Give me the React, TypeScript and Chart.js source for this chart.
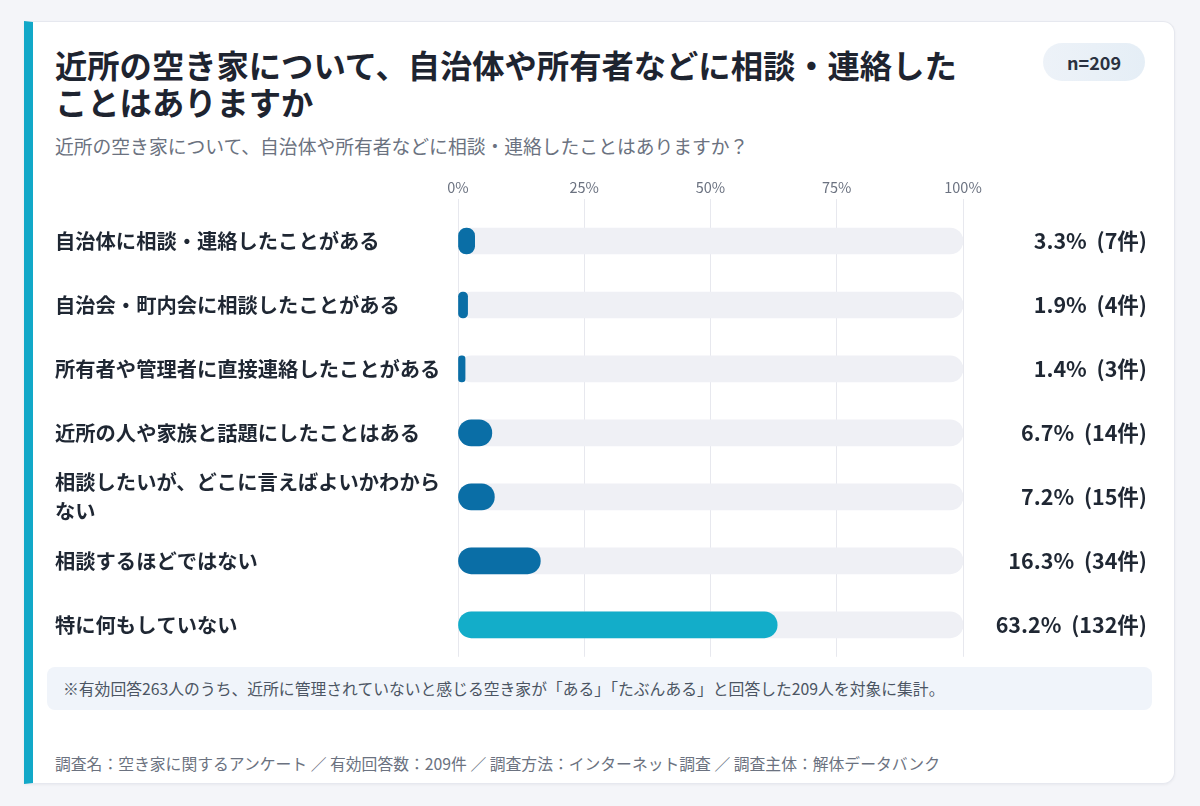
import React, { useEffect, useRef } from "react";
import { Chart, registerables } from "chart.js";

Chart.register(...registerables);

const FONT = '"Noto Sans CJK JP", "Noto Sans", sans-serif';

const TITLE_LINES = ["近所の空き家について、自治体や所有者などに相談・連絡した", "ことはありますか"];
const SUBTITLE = "近所の空き家について、自治体や所有者などに相談・連絡したことはありますか？";
const SAMPLE = "n=209";
const NOTE = "※有効回答263人のうち、近所に管理されていないと感じる空き家が「ある」「たぶんある」と回答した209人を対象に集計。";
const SOURCE = "調査名：空き家に関するアンケート ／ 有効回答数：209件 ／ 調査方法：インターネット調査 ／ 調査主体：解体データバンク";

const categories: (string | string[])[] = [
  "自治体に相談・連絡したことがある",
  "自治会・町内会に相談したことがある",
  "所有者や管理者に直接連絡したことがある",
  "近所の人や家族と話題にしたことはある",
  ["相談したいが、どこに言えばよいかわから", "ない"],
  "相談するほどではない",
  "特に何もしていない",
];
const percentages = [3.3, 1.9, 1.4, 6.7, 7.2, 16.3, 63.2];
const counts = [7, 4, 3, 14, 15, 34, 132];
const axisTicks = [0, 25, 50, 75, 100];
const AXIS_MAX = 100;

const BAR_COLOR = "#0a6ea6";
const TOP_COLOR = "#13adc9";
const TRACK_COLOR = "#eff0f5";

export default function App() {
  const canvasRef = useRef<HTMLCanvasElement | null>(null);

  useEffect(() => {
    const canvas = canvasRef.current;
    if (!canvas) return;
    const maxVal = Math.max(...percentages);
    const valueLabels = percentages.map((p, i) => `${p.toFixed(1)}%  (${counts[i]}件)`);
    const chart = new Chart(canvas, {
      type: "bar",
      data: {
        labels: categories as any,
        datasets: [
          {
            label: "割合",
            data: percentages,
            backgroundColor: percentages.map((p) => (p === maxVal ? TOP_COLOR : BAR_COLOR)),
            borderRadius: 13,
            borderSkipped: false,
            barThickness: 26,
            grouped: false,
            order: 1,
            yAxisID: "y",
          } as any,
          {
            label: "全体",
            data: percentages.map(() => AXIS_MAX),
            backgroundColor: TRACK_COLOR,
            borderRadius: 13,
            borderSkipped: false,
            barThickness: 26,
            grouped: false,
            order: 2,
            yAxisID: "y",
          } as any,
        ],
      },
      options: {
        indexAxis: "y",
        animation: false,
        responsive: false,
        maintainAspectRatio: false,
        layout: { padding: 0 },
        plugins: { legend: { display: false }, tooltip: { enabled: false } },
        scales: {
          x: {
            type: "linear",
            position: "top",
            min: 0,
            max: AXIS_MAX,
            afterBuildTicks: (s: any) => {
              s.ticks = axisTicks.map((v) => ({ value: v }));
            },
            afterFit: (s: any) => {
              s.height = 39;
            },
            ticks: {
              callback: (v: any) => `${v}%`,
              color: "#6b7280",
              font: { family: FONT, size: 14.5 },
              padding: 3,
              maxRotation: 0,
            },
            grid: { color: "#e7e8ee", tickLength: 10, drawTicks: true, lineWidth: 1 },
            border: { display: false },
          },
          y: {
            type: "category",
            position: "left",
            offset: true,
            grid: { display: false },
            border: { display: false },
            afterFit: (s: any) => {
              s.width = 403;
            },
            ticks: {
              crossAlign: "far",
              color: "#1f2733",
              font: { family: FONT, size: 20.3, weight: "bold", lineHeight: 1.4 },
              padding: 0,
            },
          },
          y2: {
            type: "category",
            position: "right",
            labels: valueLabels,
            offset: true,
            grid: { display: false },
            border: { display: false },
            afterFit: (s: any) => {
              s.width = 184;
            },
            ticks: {
              crossAlign: "far",
              color: "#1f2733",
              font: { family: FONT, size: 21.5, weight: "bold" },
              padding: 0,
            },
          },
        } as any,
      },
    });
    return () => chart.destroy();
  }, []);

  return (
    <div
      style={{
        position: "absolute",
        left: 0,
        top: 0,
        width: 1200,
        height: 806,
        background: "#f4f5f9",
        fontFamily: FONT,
        overflow: "hidden",
      }}
    >
      <div
        style={{
          position: "absolute",
          left: 24,
          top: 21,
          width: 1151,
          height: 763,
          boxSizing: "border-box",
          background: "#ffffff",
          border: "1px solid #e6e8ef",
          borderLeft: "9px solid #12a8c8",
          borderRadius: "0 12px 12px 0",
          boxShadow: "0 1px 3px rgba(15,23,42,0.05)",
        }}
      />
      <div
        style={{
          position: "absolute",
          left: 55,
          top: 46,
          fontSize: 32.3,
          fontWeight: 700,
          lineHeight: "37px",
          color: "#1e2430",
          whiteSpace: "nowrap",
        }}
      >
        {TITLE_LINES.map((l, i) => (
          <div key={i}>{l}</div>
        ))}
      </div>
      <div
        style={{
          position: "absolute",
          left: 55,
          top: 133,
          fontSize: 18.8,
          lineHeight: "26px",
          color: "#6b7280",
          whiteSpace: "nowrap",
        }}
      >
        {SUBTITLE}
      </div>
      <div
        style={{
          position: "absolute",
          left: 1043,
          top: 43,
          width: 102,
          height: 38,
          borderRadius: 19,
          background: "linear-gradient(90deg, #edf2f8, #e5eef6)",
          display: "flex",
          alignItems: "center",
          justifyContent: "center",
          fontSize: 18,
          fontWeight: 700,
          color: "#2a3140",
        }}
      >
        {SAMPLE}
      </div>
      <canvas
        ref={canvasRef}
        width={1092}
        height={501}
        style={{ position: "absolute", left: 55, top: 170, width: 1092, height: 501 }}
      />
      <div
        style={{
          position: "absolute",
          left: 47,
          top: 667,
          width: 1105,
          height: 43,
          borderRadius: 8,
          background: "#f0f4fa",
          display: "flex",
          alignItems: "center",
          paddingLeft: 16,
          boxSizing: "border-box",
          fontSize: 15.8,
          color: "#4b5563",
          whiteSpace: "nowrap",
        }}
      >
        {NOTE}
      </div>
      <div
        style={{
          position: "absolute",
          left: 55,
          top: 753,
          fontSize: 15.8,
          lineHeight: "22px",
          color: "#6b7280",
          whiteSpace: "nowrap",
        }}
      >
        {SOURCE}
      </div>
    </div>
  );
}
